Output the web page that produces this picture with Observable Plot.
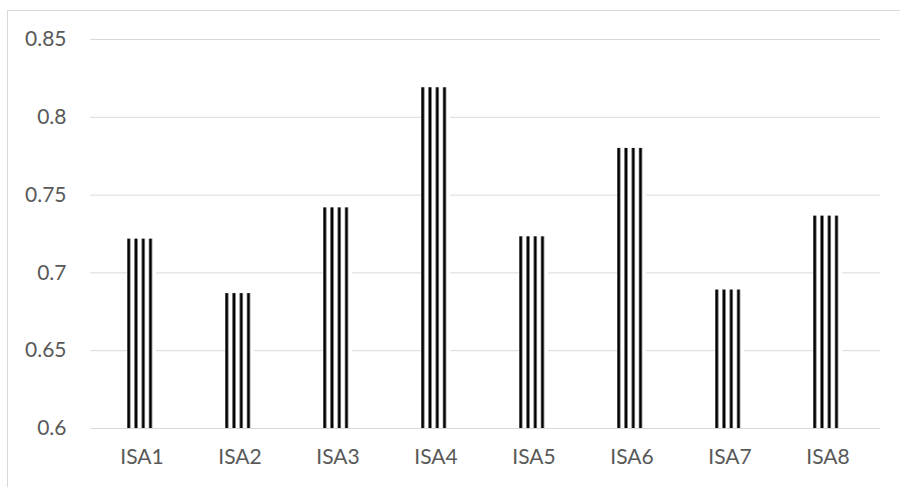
<!DOCTYPE html>
<html>
<head>
<meta charset="utf-8">
<script src="https://cdn.jsdelivr.net/npm/d3@7"></script>
<script src="https://cdn.jsdelivr.net/npm/@observablehq/plot@0.6"></script>
<style>
  html, body { margin: 0; padding: 0; background: #ffffff; overflow: hidden; }
  #frame { position: relative; width: 900px; height: 487px; }
  #border {
    position: absolute; left: 7px; top: 10px; width: 1000px; height: 1000px;
    border-left: 1px solid #d9d9d9; border-top: 1px solid #d9d9d9;
    pointer-events: none;
  }
  #chart { position: absolute; left: 0; top: 0; }
</style>
</head>
<body>
<div id="frame">
  <div id="chart"></div>
  <div id="border"></div>
</div>
<script>
// Scores per item
const categories = ["ISA1", "ISA2", "ISA3", "ISA4", "ISA5", "ISA6", "ISA7", "ISA8"];
const values = [0.7217, 0.6867, 0.7418, 0.8190, 0.7232, 0.7800, 0.6890, 0.7365];
const yTicks = [0.6, 0.65, 0.7, 0.75, 0.8, 0.85];

const data = categories.map((c, i) => ({category: c, value: values[i]}));

const chart = Plot.plot({
  width: 900,
  height: 487,
  marginTop: 39,
  marginBottom: 59,
  marginLeft: 90,
  marginRight: 20,
  style: {fontFamily: "Lato, 'Open Sans', sans-serif", fontSize: "21px", color: "#595959", background: "transparent"},
  x: {domain: categories, paddingInner: 0.7, paddingOuter: 0.35, label: null},
  y: {domain: [0.6, 0.85], label: null},
  marks: [
    Plot.ruleY(yTicks, {stroke: "#d9d9d9", strokeWidth: 1}),
    Plot.barY(data, {x: "category", y1: 0.6, y2: "value", fill: "url(#vstripes)"}),
    Plot.axisX({tickSize: 0, tickPadding: 21, fontSize: 21, fill: "#595959", label: null}),
    Plot.axisY({ticks: yTicks, tickFormat: d => String(d), tickSize: 0, tickPadding: 24, fontSize: 21, fill: "#595959", label: null})
  ]
});

// Vertical stripe pattern (four stripes per bar) used as the bar fill
const ns = "http://www.w3.org/2000/svg";
const defs = document.createElementNS(ns, "defs");
const pat = document.createElementNS(ns, "pattern");
pat.setAttribute("id", "vstripes");
pat.setAttribute("patternUnits", "objectBoundingBox");
pat.setAttribute("patternContentUnits", "objectBoundingBox");
pat.setAttribute("width", "0.25");
pat.setAttribute("height", "1");
const bg = document.createElementNS(ns, "rect");
bg.setAttribute("width", "0.25"); bg.setAttribute("height", "1"); bg.setAttribute("fill", "#ffffff");
const stripe = document.createElementNS(ns, "rect");
stripe.setAttribute("x", "0.01"); stripe.setAttribute("width", "0.1"); stripe.setAttribute("height", "1");
stripe.setAttribute("fill", "#000000");
pat.appendChild(bg); pat.appendChild(stripe);
defs.appendChild(pat);
chart.insertBefore(defs, chart.firstChild);

document.getElementById("chart").appendChild(chart);
</script>
</body>
</html>
